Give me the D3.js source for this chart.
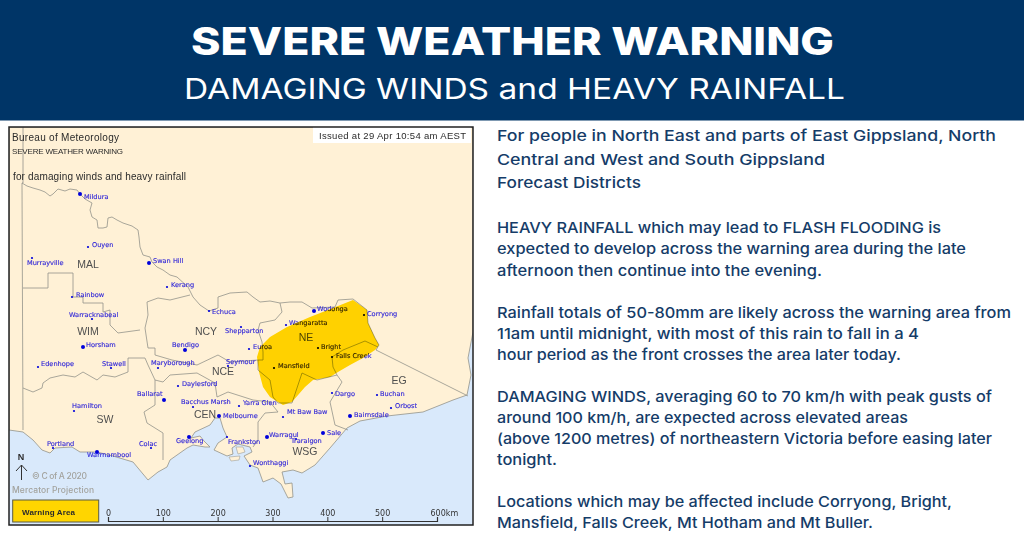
<!DOCTYPE html>
<html>
<head>
<meta charset="utf-8">
<script src="https://cdnjs.cloudflare.com/ajax/libs/d3/7.8.5/d3.min.js"></script>
<style>
  html, body { margin: 0; padding: 0; background: #fff; overflow: hidden; }
  svg { display: block; }
  .town { font-family: "DejaVu Sans", sans-serif; font-size: 6.6px; fill: #2f25d8; stroke: #2f25d8; stroke-width: 0.12px; }
  .district { font-family: "Liberation Sans", sans-serif; font-size: 10.5px; fill: #4f4f4f; text-anchor: middle; }
  .maptext { font-family: "Liberation Sans", sans-serif; fill: #2b2b2b; }
  .body { font-family: Inter, sans-serif; font-size: 15px; font-weight: 500; fill: #153c68; }
</style>
</head>
<body>
<svg id="chart" width="1024" height="537"></svg>
<script>
// header and side text
const title = "SEVERE WEATHER WARNING";
const subtitle = "DAMAGING WINDS and HEAVY RAINFALL";
const bodyLines = [
  "For people in North East and parts of East Gippsland, North",
  "Central and West and South Gippsland",
  "Forecast Districts",
  "HEAVY RAINFALL which may lead to FLASH FLOODING is",
  "expected to develop across the warning area during the late",
  "afternoon then continue into the evening.",
  "Rainfall totals of 50-80mm are likely across the warning area from",
  "11am until midnight, with most of this rain to fall in a 4",
  "hour period as the front crosses the area later today.",
  "DAMAGING WINDS, averaging 60 to 70 km/h with peak gusts of",
  "around 100 km/h, are expected across elevated areas",
  "(above 1200 metres) of northeastern Victoria before easing later",
  "tonight.",
  "Locations which may be affected include Corryong, Bright,",
  "Mansfield, Falls Creek, Mt Hotham and Mt Buller."
];
const bodyBaselines = [141, 165, 188, 233, 254, 276, 318, 339, 360, 402, 423, 444, 465, 507, 528];
const bodyRightEdges = [996, 825, 641, 941, 966, 822, 1011, 919, 901, 992, 908, 992, 557, 952, 873];

// map geography in map units
const coast = [[9,430],[23,432],[33,440],[42,450],[50,453],[55,448],[72,447],[80,452],[97,452],[113,456],[133,462],[148,480],[158,472],[167,467],[170,460],[187,448],[193,445],[205,447],[210,447],[204,441],[200,436],[191,438],[195,432],[210,425],[215,418],[220,418],[223,428],[227,437],[218,443],[214,450],[227,456],[233,454],[232,448],[238,444],[250,447],[252,452],[244,456],[250,465],[258,468],[263,482],[273,478],[281,484],[288,498],[293,497],[292,483],[285,484],[282,472],[293,470],[302,473],[315,465],[330,448],[347,428],[360,421],[387,416],[423,412],[453,400],[467,395],[471,375],[468,358],[473,332],[473,127],[9,127]];
const islands = [
  [[236,447],[243,447],[245,452],[238,454]],
  [[229,457],[240,456],[239,460],[231,461]]
];
const borders = [
  // SA border
  [[23,127],[23,183],[22,183],[23,430]],
  // Murray and NSW border
  [[22,183],[27,186],[33,188],[40,190],[45,192],[50,196],[53,194],[58,189],[65,191],[70,189],[77,190],[80,194],[85,199],[92,203],[90,210],[92,217],[97,220],[98,228],[103,228],[107,227],[108,218],[112,217],[117,220],[123,223],[132,226],[138,230],[139,237],[140,247],[143,255],[150,257],[152,262],[157,267],[163,270],[170,275],[177,277],[188,287],[193,297],[200,305],[209,311],[218,308],[218,297],[230,293],[247,292],[253,297],[260,302],[270,301],[280,303],[290,302],[302,302],[312,308],[335,307],[338,300],[353,299],[367,310],[368,323],[375,338],[379,345],[376,350],[468,396]],
  // MAL / WIM
  [[23,288],[48,288],[48,273],[73,273],[73,297],[83,297],[83,303],[103,303],[103,312],[110,310],[110,325],[118,333],[140,330]],
  // WIM / SW
  [[23,388],[33,392],[42,388],[43,383],[50,378],[63,375],[75,377],[83,372],[97,380],[103,375],[115,377],[128,372],[128,358],[145,358]],
  // NCY west and south
  [[190,295],[170,300],[158,298],[147,302],[148,315],[145,328],[148,348],[155,348],[155,355],[172,360],[197,365],[218,355],[230,362],[258,360]],
  // SW / CEN
  [[145,358],[148,365],[155,380],[155,405],[144,412],[147,423],[163,433],[163,460]],
  // NCE / CEN
  [[155,380],[163,382],[170,375],[197,373],[215,383],[217,397],[228,392],[253,400],[270,402]],
  // NCY / NE
  [[280,303],[282,312],[275,320],[260,323],[258,330],[262,342],[263,352],[263,360],[258,360],[258,370],[270,380],[273,397],[278,403]],
  // CEN / WSG
  [[270,402],[278,412],[265,413],[258,422],[258,440],[253,447]],
  // NE / EG
  [[278,403],[292,403],[302,373],[317,380],[337,375],[342,382],[330,402],[335,425],[348,430]],
  // alpine loop
  [[337,375],[333,367],[332,357],[343,350],[365,341],[378,347]]
];
const warningArea = [[353,300],[367,310],[368,323],[375,338],[379,345],[375,350],[363,358],[350,365],[338,372],[330,377],[313,380],[305,387],[292,402],[283,405],[278,402],[270,397],[263,387],[259,372],[257,357],[260,347],[270,337],[287,327],[310,317],[333,308]];

const majorTowns = ["Mildura","Swan Hill","Horsham","Warrnambool","Ballarat","Bendigo","Melbourne","Geelong","Warragul","Sale","Bairnsdale","Wodonga"];
const towns = [
  ["Mildura",80,194,84,197],["Ouyen",88,247,92,244.5],["Murrayville",32,258,27,263],["Swan Hill",149,263,153,261],
  ["Kerang",167,287,171,285],["Rainbow",72,297,76,295],["Warracknabeal",92,319,69,315],["Echuca",209,311,212,312],
  ["Horsham",83,347,86,345],["Edenhope",38,367,41,364],["Stawell",111,368,102,364],["Hamilton",74,411,72,406],
  ["Portland",53,448,47,444],["Warrnambool",97,452,87,455],["Colac",151,448,139,444],["Ballarat",164,400,137,394],
  ["Bendigo",185,350,172,345],["Maryborough",158,368,151,363],["Daylesford",178,386,182,384],["Bacchus Marsh",193,407,181,402],
  ["Melbourne",219,416,223,416],["Geelong",189,437,176,441],["Frankston",227,437,228,442],["Yarra Glen",239,406,243,403],
  ["Mt Baw Baw",283,417,287,412],["Warragul",267,437,269,435],["Traralgon",296,439,291,441],["Sale",323,433,327,433],
  ["Wonthaggi",250,466,253,463],["Dargo",332,393,335,394],["Bairnsdale",350,416,354,415],["Buchan",377,395,380,394],
  ["Orbost",391,408,395,406],["Euroa",249,349,253,347],["Seymour",228,366,226,362],["Shepparton",241,327,225,331],
  ["Wangaratta",286,325,289,323],["Wodonga",314,311,317,309],["Corryong",364,315,367,314],["Bright",318,348,321,347],
  ["Falls Creek",332,357,336,356],["Mansfield",274,368,278,366]
];
const districts = [
  ["MAL",88,264],["WIM",88,331],["NCY",206,331],["NE",306,337],["NCE",223,371],
  ["EG",399,380],["SW",105,419],["CEN",205,414],["WSG",305,451]
];
const scaleTicks = [0, 100, 200, 300, 400, 500, 600];

const svg = d3.select("#chart");

// banner
svg.append("rect").attr("width", 1024).attr("height", 120.5).attr("fill", "#003567");
svg.append("text").attr("x", 191).attr("y", 55)
  .attr("textLength", 643).attr("lengthAdjust", "spacingAndGlyphs")
  .style("font", "800 38.5px Inter, sans-serif").attr("fill", "#fff").text(title);
svg.append("text").attr("x", 184).attr("y", 99)
  .attr("textLength", 661).attr("lengthAdjust", "spacingAndGlyphs")
  .style("font", "400 29px Inter, sans-serif").attr("fill", "#fff").text(subtitle);

// side text
svg.selectAll("text.body")
  .data(bodyLines)
  .join("text")
  .attr("class", "body")
  .attr("x", 497)
  .attr("y", (d, i) => bodyBaselines[i])
  .attr("textLength", (d, i) => bodyRightEdges[i] - 497)
  .attr("lengthAdjust", "spacingAndGlyphs")
  .text(d => d);

// map
const defs = svg.append("defs");
defs.append("filter").attr("id", "soft").attr("x", 0).attr("y", 0).attr("width", 1).attr("height", 1)
  .append("feGaussianBlur").attr("stdDeviation", 0.3);
defs.append("clipPath").attr("id", "mapclip").append("rect")
  .attr("x", 9).attr("y", 127).attr("width", 464).attr("height", 398);

const x = d3.scaleLinear().domain([9, 473]).range([9, 473]);
const y = d3.scaleLinear().domain([127, 525]).range([127, 525]);
const line = d3.line().x(d => x(d[0])).y(d => y(d[1]));

const map = svg.append("g").attr("clip-path", "url(#mapclip)").append("g").attr("filter", "url(#soft)");
map.append("rect").attr("x", x(9)).attr("y", y(127)).attr("width", 464).attr("height", 398).attr("fill", "#d9e9fb");
map.append("path").attr("d", line(coast) + "Z").attr("fill", "#fff1d6").attr("stroke", "#93938a").attr("stroke-width", 0.8);
map.selectAll("path.island").data(islands).join("path").attr("class", "island")
  .attr("d", d => line(d) + "Z").attr("fill", "#fff1d6").attr("stroke", "#a0a098").attr("stroke-width", 0.6);
map.selectAll("path.border").data(borders).join("path").attr("class", "border")
  .attr("d", line).attr("fill", "none").attr("stroke", "#93938a").attr("stroke-width", 0.8);

map.selectAll("text.district").data(districts).join("text").attr("class", "district")
  .attr("x", d => x(d[1])).attr("y", d => y(d[2])).attr("dy", "0.35em").text(d => d[0]);

map.selectAll("circle.town").data(towns).join("circle").attr("class", "town")
  .attr("cx", d => x(d[1])).attr("cy", d => y(d[2]))
  .attr("r", d => majorTowns.includes(d[0]) ? 2 : 1.1).style("fill", "#0000dc").style("stroke", "none");
map.selectAll("text.town").data(towns).join("text").attr("class", "town")
  .attr("x", d => x(d[3])).attr("y", d => y(d[4])).attr("dy", "0.35em").text(d => d[0]);

// warning overlay darkens whatever lies under it
map.append("path").attr("d", line(warningArea) + "Z").attr("fill", "#ffde00").style("mix-blend-mode", "multiply");

// map furniture
map.append("rect").attr("x", 313).attr("y", 127).attr("width", 158).attr("height", 16).attr("fill", "#fff");
map.append("text").attr("class", "maptext").attr("x", 319).attr("y", 139).style("font-size", "9.5px")
  .attr("textLength", 147).text("Issued at 29 Apr 10:54 am AEST");
map.append("text").attr("class", "maptext").attr("x", 12).attr("y", 141).style("font-size", "10px")
  .attr("textLength", 107).text("Bureau of Meteorology");
map.append("text").attr("class", "maptext").attr("x", 12).attr("y", 154).style("font-size", "8px")
  .attr("textLength", 111).text("SEVERE WEATHER WARNING");
map.append("text").attr("class", "maptext").attr("x", 13).attr("y", 180).style("font-size", "10px")
  .attr("textLength", 173).text("for damaging winds and heavy rainfall");

// north arrow
map.append("text").attr("class", "maptext").attr("x", 21).attr("y", 460).attr("text-anchor", "middle")
  .style("font-size", "9px").style("font-weight", "bold").text("N");
map.append("path").attr("d", line([[21.5, 480], [21.5, 465]])).attr("stroke", "#333").attr("stroke-width", 1).attr("fill", "none");
map.append("path").attr("d", line([[16, 471], [21.5, 465], [27, 471]])).attr("stroke", "#333").attr("stroke-width", 1).attr("fill", "none");
map.append("text").attr("x", 32).attr("y", 479).attr("fill", "#a3a39e").style("font", "500 8.5px Inter, sans-serif")
  .attr("textLength", 55).text("© C of A 2020");
map.append("text").attr("x", 12).attr("y", 493).attr("fill", "#a3a39e").style("font", "500 8.5px Inter, sans-serif")
  .attr("textLength", 82).text("Mercator Projection");

// legend
map.append("rect").attr("x", 12.7).attr("y", 500).attr("width", 86).attr("height", 22)
  .attr("fill", "#ffd500").attr("stroke", "#5b5b45").attr("stroke-width", 1);
map.append("text").attr("class", "maptext").attr("x", 22).attr("y", 514.5).style("font-size", "8px").style("font-weight", "bold")
  .attr("textLength", 53).text("Warning Area");

// scale bar
const km = d3.scaleLinear().domain([0, 600]).range([108, 437]);
const scaleAxis = d3.axisTop(km).tickValues(scaleTicks).tickSize(4).tickFormat(d => d === 600 ? "600km" : d);
const scaleG = map.append("g").attr("transform", `translate(0,${y(521)})`).call(scaleAxis);
scaleG.select(".domain").attr("stroke", "#333").attr("stroke-width", 1.2);
scaleG.selectAll(".tick line").attr("stroke", "#333");
scaleG.selectAll(".tick text")
  .attr("fill", "#333").style("font", "8px 'DejaVu Sans', sans-serif").attr("y", -5.5)
  .filter(d => d === 600).attr("text-anchor", "start").attr("dx", -7);

// frame on top of the map
svg.append("rect").attr("x", 9).attr("y", 127).attr("width", 464).attr("height", 398)
  .attr("fill", "none").attr("stroke", "#222").attr("stroke-width", 1.5);
</script>
</body>
</html>
